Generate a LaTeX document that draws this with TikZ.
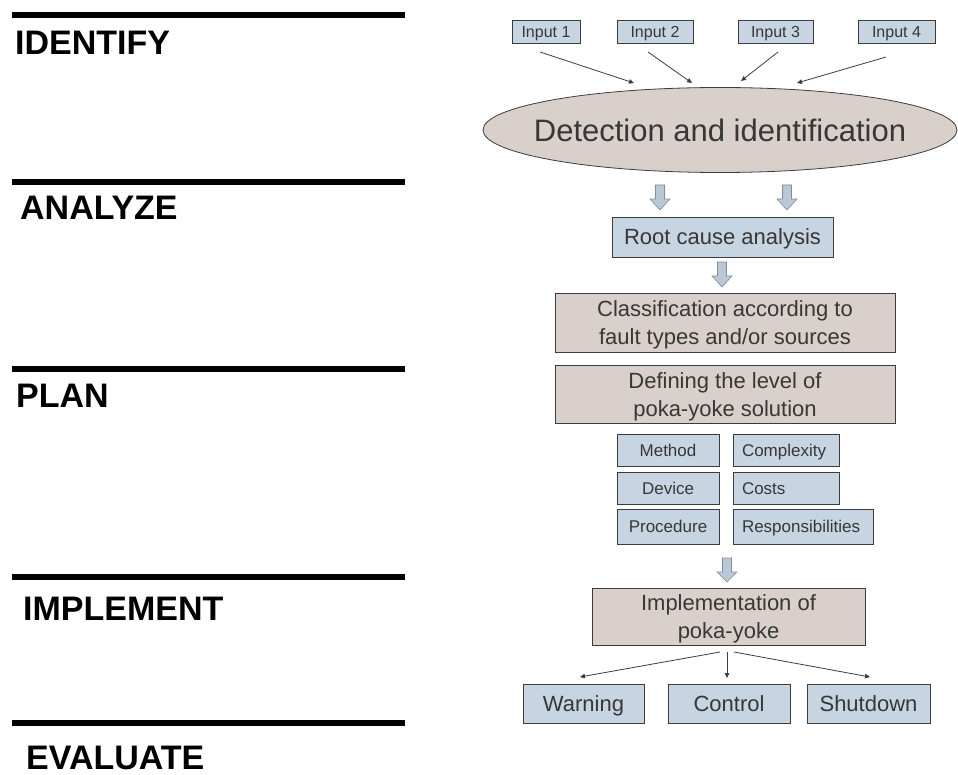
\documentclass[tikz,border=0pt]{standalone}
\usepackage{fontspec}
\setmainfont{Liberation Sans}
\usetikzlibrary{shapes.geometric,arrows.meta,calc,shadows}

\definecolor{boxblue}{RGB}{198,213,225}
\definecolor{boxrose}{RGB}{217,207,203}
\definecolor{arrowfill}{RGB}{186,199,214}
\definecolor{arrowedge}{RGB}{130,140,152}
\definecolor{txt}{RGB}{55,55,55}
\definecolor{edge}{RGB}{60,60,60}

\newcommand{\toplift}{\rule{0pt}{21pt}}

\begin{document}
\begin{tikzpicture}[x=1pt,y=-1pt,
  phase/.style={font=\fontsize{34}{34}\selectfont\bfseries, anchor=base west, inner sep=0pt},
  phaserule/.style={line width=6pt, black},
  shade/.style={drop shadow={shadow xshift=1.2pt, shadow yshift=-1.2pt, fill=black!45, opacity=0.7}},
  bluebox/.style={draw=edge, fill=boxblue, line width=0.8pt, text=txt, inner sep=0pt, align=center, shade},
  rosebox/.style={draw=edge, fill=boxrose, line width=0.8pt, text=txt, inner sep=0pt, align=center, shade},
  inbox/.style={bluebox, font=\fontsize{16}{16}\selectfont, text height=12.5pt, text depth=1.4pt, minimum height=23pt},
  midfont/.style={font=\fontsize{22}{28}\selectfont},
  midline/.style={midfont, text height=17.5pt, text depth=2.3pt},
  smallbox/.style={bluebox, font=\fontsize{17}{17}\selectfont, text height=13.5pt, text depth=0.9pt},
  link/.style={draw=edge, line width=0.8pt, -{Triangle[length=5pt,width=4.5pt]}},
  pics/downarrow/.style={code={
    \draw[fill=arrowfill, draw=arrowedge, line width=0.6pt]
      (-4.5,0) -- (4.5,0) -- (4.5,14) -- (10,14) -- (0,#1) -- (-10,14) -- (-4.5,14) -- cycle;}}
]
\useasboundingbox (0,0) rectangle (958,775);

% phase rules and headings
\draw[phaserule] (12,15) -- (405,15);
\draw[phaserule] (12,182) -- (405,182);
\draw[phaserule] (12,369) -- (405,369);
\draw[phaserule] (12,577) -- (405,577);
\draw[phaserule] (12,723) -- (405,723);
\node[phase] (pIdentify)  at (15,55)  {IDENTIFY};
\node[phase] (pAnalyze)   at (20,220) {ANALYZE};
\node[phase] (pPlan)      at (16,407) {PLAN};
\node[phase] (pImplement) at (23,620) {IMPLEMENT};
\node[phase] (pEvaluate)  at (26,769) {EVALUATE};

% inputs
\node[inbox, minimum width=68pt] (in1) at (546,31.5)   {Input 1};
\node[inbox, minimum width=76pt] (in2) at (655,31.5)   {Input 2};
\node[inbox, minimum width=75pt] (in3) at (775.5,31.5) {Input 3};
\node[inbox, minimum width=77pt] (in4) at (896.5,31.5) {Input 4};

% detection ellipse
\node[ellipse, draw=edge, fill=boxrose, line width=0.8pt, text=txt,
      minimum width=474pt, minimum height=85pt, inner sep=0pt,
      font=\fontsize{31}{31}\selectfont] (detect) at (720,130)
      {\makebox[0pt]{Detection and identification}};

\coordinate (a1) at (540,52);  \coordinate (b1) at (634,83);
\coordinate (a2) at (648,52);  \coordinate (b2) at (692,83);
\coordinate (a3) at (778,52);  \coordinate (b3) at (741,81);
\coordinate (a4) at (886,57);  \coordinate (b4) at (797,83);
\draw[link] (a1) -- (b1);
\draw[link] (a2) -- (b2);
\draw[link] (a3) -- (b3);
\draw[link] (a4) -- (b4);

% analysis chain
\pic at (660,185) {downarrow=25};
\pic at (787,185) {downarrow=25};
\node[bluebox, midline, minimum width=221pt, minimum height=40pt] (root) at (722.5,237) {Root cause analysis};
\pic at (722,262) {downarrow=25};
\node[rosebox, midfont, minimum width=340pt, minimum height=59pt] (classify) at (725,322.5)
  {\toplift Classification according to\\fault types and/or sources};
\node[rosebox, midfont, minimum width=340pt, minimum height=58pt] (level) at (725,394)
  {\toplift Defining the level of\\poka-yoke solution};

% solution attributes
\node[smallbox, minimum width=102pt, minimum height=32pt] (method) at (668,450) {Method};
\node[smallbox, minimum width=106pt, minimum height=32pt] (complexity) at (786,450) {\makebox[88pt][l]{Complexity}};
\node[smallbox, minimum width=102pt, minimum height=32pt] (device) at (668,488) {Device};
\node[smallbox, minimum width=106pt, minimum height=32pt] (costs) at (786,488) {\makebox[88pt][l]{Costs}};
\node[smallbox, minimum width=102pt, minimum height=35pt] (procedure) at (668,526.5) {Procedure};
\node[smallbox, minimum width=140pt, minimum height=35pt] (resp) at (803,526.5) {\makebox[122pt][l]{Responsibilities}};

\pic at (727,558) {downarrow=24};

% implementation and outcomes
\node[rosebox, midfont, minimum width=273pt, minimum height=57pt] (impl) at (728.5,616.5)
  {\toplift Implementation of\\poka-yoke};
\node[bluebox, midline, minimum width=121pt, minimum height=39pt] (warning) at (583.5,703.5) {Warning};
\node[bluebox, midline, minimum width=122pt, minimum height=39pt] (control) at (729,703.5) {Control};
\node[bluebox, midline, minimum width=123pt, minimum height=39pt] (shutdown) at (868.5,703.5) {Shutdown};

\coordinate (s1) at (720,652); \coordinate (t1) at (580,677);
\coordinate (s2) at (727,652); \coordinate (t2) at (727,678);
\coordinate (s3) at (734,652); \coordinate (t3) at (870,677);
\draw[link] (s1) -- (t1);
\draw[link] (s2) -- (t2);
\draw[link] (s3) -- (t3);
\end{tikzpicture}
\end{document}
